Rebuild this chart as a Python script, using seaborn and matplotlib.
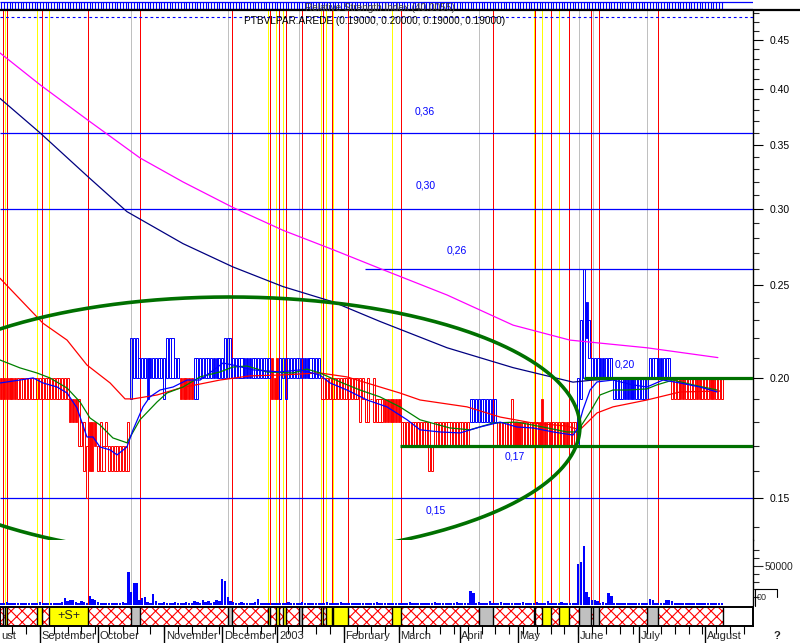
import matplotlib.pyplot as plt
import matplotlib.ticker as mticker
from matplotlib.lines import Line2D
import numpy as np
import seaborn as sns

# daily bars, one entry per trading day starting mid August 2002 (prices in cents)
low_cents = [
    19, 19, 19, 19, 19, 19, 19, 19, 19, 19, 19, 19, 19, 19, 19, 19, 19, 19, 19, 19,
    19, 19, 19, 19, 19, 18, 18, 18, 17, 17, 16, 15, 16, 16, 17, 16, 16, 16, 17, 16,
    16, 16, 16, 16, 16, 16, 16, 19, 20, 20, 20, 20, 20, 19, 20, 20, 20, 20, 20, 19,
    20, 20, 20, 20, 20, 19, 19, 19, 19, 19, 19, 19, 20, 20, 20, 20, 20, 20, 20, 20,
    20, 20, 20, 20, 20, 20, 20, 20, 20, 20, 20, 20, 20, 20, 20, 20, 20, 20, 19, 19,
    19, 19, 20, 19, 20, 20, 20, 20, 20, 20, 20, 20, 20, 20, 20, 20, 19, 19, 19, 19,
    19, 19, 19, 19, 19, 19, 19, 19, 19, 19, 18, 19, 18, 18, 19, 18, 18, 18, 18, 18,
    18, 18, 18, 18, 18, 17, 17, 17, 17, 17, 17, 17, 17, 17, 17, 16, 16, 17, 17, 17,
    17, 17, 17, 17, 17, 17, 17, 17, 17, 17, 18, 18, 18, 18, 18, 18, 18, 18, 18, 18,
    17, 17, 17, 17, 17, 17, 17, 17, 17, 17, 17, 17, 17, 17, 17, 17, 17, 17, 17, 17,
    17, 17, 17, 17, 17, 17, 17, 17, 17, 17, 19, 20, 22, 21, 20, 20, 20, 20, 20, 20,
    20, 20, 19, 19, 19, 19, 19, 19, 19, 19, 19, 19, 19, 19, 19, 20, 20, 20, 20, 20,
    20, 20, 20, 19, 19, 19, 19, 19, 19, 19, 19, 19, 19, 19, 19, 19, 19, 19, 19, 19,
    19, 19,
]
high_cents = [
    20, 20, 20, 20, 20, 20, 20, 20, 20, 20, 20, 20, 20, 20, 20, 20, 20, 20, 20, 20,
    20, 20, 20, 20, 20, 19, 19, 19, 19, 18, 18, 17, 18, 18, 18, 17, 18, 17, 18, 17,
    17, 17, 17, 17, 17, 17, 18, 22, 22, 22, 21, 21, 21, 21, 21, 21, 21, 21, 21, 21,
    22, 22, 22, 21, 21, 20, 20, 20, 20, 20, 21, 21, 21, 21, 21, 21, 21, 21, 21, 21,
    21, 22, 22, 22, 21, 21, 21, 21, 21, 21, 21, 21, 21, 21, 21, 21, 21, 21, 21, 20,
    21, 21, 21, 21, 21, 21, 21, 21, 21, 21, 21, 21, 21, 21, 21, 21, 20, 20, 20, 20,
    20, 20, 20, 20, 20, 20, 20, 20, 20, 20, 20, 20, 19, 20, 19, 20, 19, 19, 19, 19,
    19, 19, 19, 19, 19, 18, 18, 18, 18, 18, 18, 18, 18, 18, 18, 18, 17, 18, 18, 18,
    18, 18, 18, 18, 18, 18, 18, 18, 18, 18, 19, 19, 19, 19, 19, 19, 19, 19, 19, 19,
    18, 18, 18, 18, 18, 19, 18, 18, 18, 18, 18, 18, 18, 18, 18, 18, 19, 18, 18, 18,
    18, 18, 18, 18, 18, 18, 18, 18, 18, 20, 23, 26, 24, 23, 21, 21, 21, 21, 21, 21,
    21, 21, 20, 20, 20, 20, 20, 20, 20, 20, 20, 20, 20, 20, 20, 21, 21, 21, 21, 21,
    21, 21, 21, 20, 20, 20, 20, 20, 20, 20, 20, 20, 20, 20, 20, 20, 20, 20, 20, 20,
    20, 20,
]
volume_k = [
    3, 2, 4, 2, 3, 3, 2, 3, 3, 2, 2, 3, 2, 3, 4, 2, 3, 2, 3, 3,
    2, 3, 4, 9, 5, 6, 7, 4, 3, 5, 4, 3, 12, 8, 6, 4, 3, 3, 2, 3,
    2, 3, 2, 3, 4, 3, 42, 17, 28, 28, 6, 9, 10, 4, 3, 14, 5, 3, 3, 4,
    3, 2, 3, 4, 3, 2, 3, 4, 3, 3, 5, 4, 3, 6, 4, 5, 3, 4, 6, 5,
    33, 31, 10, 5, 4, 3, 3, 4, 3, 2, 3, 3, 4, 8, 3, 3, 2, 3, 2, 3,
    2, 3, 3, 2, 4, 3, 2, 3, 3, 4, 2, 3, 3, 2, 3, 2, 3, 2, 4, 3,
    2, 3, 3, 4, 3, 2, 3, 2, 3, 3, 2, 3, 3, 2, 3, 3, 4, 3, 2, 3,
    3, 2, 3, 3, 2, 3, 3, 2, 4, 3, 3, 2, 3, 3, 2, 3, 3, 4, 3, 3,
    2, 3, 3, 2, 3, 4, 2, 3, 2, 3, 18, 15, 3, 4, 3, 2, 3, 5, 3, 3,
    2, 4, 3, 3, 2, 3, 3, 2, 3, 4, 3, 2, 3, 3, 4, 3, 2, 3, 5, 3,
    2, 3, 3, 4, 3, 3, 2, 3, 3, 52, 55, 76, 17, 10, 6, 6, 5, 3, 4, 3,
    15, 12, 3, 3, 2, 3, 3, 2, 3, 3, 2, 3, 3, 2, 3, 8, 6, 3, 2, 3,
    3, 6, 6, 5, 3, 2, 3, 3, 2, 3, 3, 2, 3, 3, 2, 3, 3, 2, 3, 3,
    2, 3,
]
trend_starts = [0, 47, 65, 70, 98, 101, 116, 170, 180, 209, 243]
trend_colors = ["red", "blue", "red", "blue", "red", "blue", "red", "blue", "red", "blue", "red"]
filled_days = [0, 1, 2, 3, 4, 5, 25, 26, 27, 32, 33, 34, 53, 54, 65, 66, 67, 68, 69,
               77, 78, 88, 89, 90, 98, 99, 100, 110, 111, 139, 140, 141, 142, 143, 144,
               186, 187, 188, 195, 196, 197, 204, 205, 212, 217, 218, 226, 227, 228, 229,
               238, 239, 246, 247, 252, 253, 257, 258]

# first trading day of each month; the August 2002 label is cut by the left edge
month_starts = [-8, 14, 35, 59, 80, 100, 124, 144, 166, 187, 209, 231, 255]
month_labels = ["ust", "September", "October", "November", "December", "2003",
                "February", "March", "April", "May", "June", "July", "August"]

# event markers (trading-day position)
red_events = [0.6, 2.0, 14.7, 31.4, 50.2, 83.6, 97.3, 100.6, 103.1, 108.9, 116.5, 119.8,
              125.6, 144.8, 178.1, 193.3, 199.1, 205.7, 213.6, 216.5, 237.9]
yellow_events = [1.3, 12.9, 17.3, 96.6, 99.5, 102.0, 115.8, 117.6, 120.2, 141.5,
                 193.0, 195.9, 202.0]
gray_events = [47.0, 82.1, 107.8, 173.1, 209.3, 214.4, 233.9]

# moving averages, read at sample points
ma_magenta_x = [-0.5, 14.0, 31.4, 50.2, 65.8, 83.9, 102.0, 120.2, 137.2, 161.5, 185.4, 206.0, 233.9, 259.6]
ma_magenta_y = [0.436, 0.404, 0.371, 0.339, 0.320, 0.301, 0.285, 0.272, 0.260, 0.244, 0.227, 0.219, 0.215, 0.210]
ma_navy_x = [-0.5, 14.0, 31.4, 45.5, 65.8, 83.9, 102.0, 120.2, 137.2, 161.5, 185.4, 207.1, 214.4, 231.4, 260.4]
ma_navy_y = [0.391, 0.360, 0.324, 0.298, 0.276, 0.261, 0.249, 0.240, 0.229, 0.215, 0.205, 0.198, 0.199, 0.200, 0.1995]
ma_red_x = [-0.5, 15.1, 23.8, 31.0, 39.4, 44.8, 47.7, 56.4, 64.7, 72.0, 79.2, 90.1, 101.0, 115.4,
            125.2, 137.2, 144.4, 151.7, 168.7, 180.7, 192.6, 204.9, 209.6, 215.8, 221.6, 233.9, 245.9, 260.4]
ma_red_y = [0.254, 0.228, 0.219, 0.2063, 0.1976, 0.1902, 0.1902, 0.192, 0.1952, 0.1971, 0.199, 0.201, 0.2014, 0.2024,
            0.2005, 0.1957, 0.1929, 0.1897, 0.1866, 0.1821, 0.1795, 0.1782, 0.1766, 0.1839, 0.1866, 0.1897, 0.1934, 0.1938]
ma_green_x = [-0.5, 6.7, 12.9, 17.6, 23.8, 28.5, 32.1, 35.7, 40.4, 45.5, 50.2, 56.4, 60.0, 65.8, 72.0,
              79.2, 83.9, 89.0, 96.2, 105.7, 110.7, 115.4, 122.7, 129.9, 137.2, 144.4, 151.7, 162.5,
              169.8, 178.1, 186.8, 196.2, 204.9, 208.6, 213.3, 216.9, 221.6, 226.7, 233.9, 237.5,
              243.3, 250.6, 259.3]
ma_green_y = [0.2088, 0.2049, 0.2024, 0.200, 0.1952, 0.1888, 0.1817, 0.1787, 0.1732, 0.1712, 0.1809,
              0.1888, 0.1929, 0.1957, 0.2005, 0.2029, 0.2053, 0.2058, 0.2029, 0.2024, 0.2043, 0.2024,
              0.1981, 0.1943, 0.1911, 0.1866, 0.1809, 0.1774, 0.1766, 0.1795, 0.1799, 0.1778, 0.1757,
              0.1757, 0.1843, 0.192, 0.1943, 0.1943, 0.1948, 0.1967, 0.199, 0.1967, 0.1943]
ma_blue_x = [-0.5, 6.7, 11.5, 15.1, 20.2, 23.8, 27.4, 31.0, 33.2, 35.7, 39.4, 41.9, 45.5, 47.7, 51.3,
             53.8, 57.5, 62.2, 67.3, 72.0, 80.3, 83.9, 91.2, 101.0, 108.2, 115.4, 119.1, 125.2, 132.5,
             139.7, 147.0, 151.7, 158.9, 166.2, 173.4, 180.7, 186.8, 192.6, 199.9, 207.1, 208.9, 210.7,
             213.3, 215.8, 221.6, 228.8, 233.9, 239.7, 245.9, 253.1, 259.3]
ma_blue_y = [0.1976, 0.199, 0.200, 0.1976, 0.1957, 0.1929, 0.1861, 0.1736, 0.1736, 0.1695, 0.1683,
             0.1663, 0.1695, 0.1766, 0.1866, 0.1911, 0.1943, 0.1957, 0.199, 0.199, 0.2073, 0.2063,
             0.2039, 0.2029, 0.2039, 0.2014, 0.1976, 0.1943, 0.1897, 0.1866, 0.1809, 0.1766, 0.1757,
             0.1753, 0.1778, 0.1799, 0.1778, 0.1774, 0.1757, 0.1744, 0.1774, 0.1852, 0.1943, 0.1981,
             0.199, 0.1967, 0.1957, 0.199, 0.1976, 0.1957, 0.1934]

level_prices = [0.36, 0.30, 0.26, 0.15]
level_starts = [-0.5, -0.5, 131.7, -0.5]
level_labels = ["0,36", "0,30", "0,26", "0,15"]
level_label_x = [153.5, 153.8, 165.1, 157.5]
level_label_dy = [-21, -23, -18, 13]
support_prices = [0.17, 0.20]
support_starts = [144.4, 211.0]
support_labels = ["0,17", "0,20"]
support_label_x = [186.1, 226.0]
support_label_dy = [11, -13]

ellipse_center_day = 82.8
ellipse_center_price = 0.1778
ellipse_half_width_days = 126.8
ellipse_half_height_decades = 0.1354

# ---------------------------------------------------------------------------
sns.set_theme(style="white")
plt.rcParams["font.family"] = ["Liberation Sans", "DejaVu Sans"]
plt.rcParams["hatch.color"] = "red"
plt.rcParams["hatch.linewidth"] = 0.8

RED, BLUE, YELLOW, GRAY = "#ff0000", "#0000ff", "#ffff00", "#c0c0c0"
W, H = 800, 643
PX_PER_DAY = 2.76
xlim = (-0.5, 753 / PX_PER_DAY - 0.5)


def box(x0, y0, x1, y1):
    return [x0 / W, 1 - y1 / H, (x1 - x0) / W, (y1 - y0) / H]


fig = plt.figure(figsize=(8, 6.43), dpi=100)
ax_top = fig.add_axes(box(0, 0, 753, 10))
ax = fig.add_axes(box(0, 10, 753, 540))
ax_vol = fig.add_axes(box(0, 540, 753, 605))
ax_band = fig.add_axes(box(0, 606.5, 753, 626))
ax_date = fig.add_axes(box(0, 626, 753, 643))

days = np.arange(len(low_cents))
lows = np.array(low_cents) / 100
highs = np.array(high_cents) / 100
colors = np.array(trend_colors)[np.searchsorted(trend_starts, days, side="right") - 1]
bar_colors = np.array([RED if c == "red" else BLUE for c in colors])

# ---- price pane ----
ax.set_yscale("log")
for xs, col in ((red_events, RED), (yellow_events, YELLOW), (gray_events, GRAY)):
    for xe in xs:
        ax.axvline(xe, color=col, lw=0.72, zorder=1, antialiased=False)
        ax_vol.axvline(xe, color=col, lw=0.72, zorder=1, antialiased=False)

for price, start, label, lx, dy in zip(level_prices, level_starts, level_labels,
                                        level_label_x, level_label_dy):
    ax.hlines(price, start, xlim[1], color=BLUE, lw=0.9, zorder=2)
    ax.annotate(label, (lx, price), xytext=(0, -dy * 0.72), textcoords="offset points",
                ha="center", va="center", color=BLUE, fontsize=7.5)

filled = np.isin(days, filled_days)
ax.bar(days[filled], highs[filled] - lows[filled], bottom=lows[filled], width=0.75,
       color=bar_colors[filled], edgecolor=bar_colors[filled], lw=0.6, zorder=2)
ax.bar(days[~filled], highs[~filled] - lows[~filled], bottom=lows[~filled], width=0.75,
       facecolor="none", edgecolor=bar_colors[~filled], lw=0.7, zorder=2)

for xs, ys, col in ((ma_magenta_x, ma_magenta_y, "#ff00ff"), (ma_navy_x, ma_navy_y, "#000080"),
                    (ma_red_x, ma_red_y, RED), (ma_green_x, ma_green_y, "#008000"),
                    (ma_blue_x, ma_blue_y, BLUE)):
    sns.lineplot(x=xs, y=ys, color=col, lw=0.9, ax=ax, zorder=3)

for price, start, label, lx, dy in zip(support_prices, support_starts, support_labels,
                                        support_label_x, support_label_dy):
    ax.hlines(price, start, xlim[1], color="#007000", lw=2.3, zorder=4)
    ax.annotate(label, (lx, price), xytext=(0, -dy * 0.72), textcoords="offset points",
                ha="center", va="center", color=BLUE, fontsize=7.5)

t = np.linspace(0, 2 * np.pi, 600)
ex = ellipse_center_day + ellipse_half_width_days * np.cos(t)
ey = 10 ** (np.log10(ellipse_center_price) + ellipse_half_height_decades * np.sin(t))
ax.plot(ex, ey, color="#007000", lw=2.6, zorder=4)

ax.plot([0, 1], [1 - 7 / 530] * 2, transform=ax.transAxes, color=BLUE, lw=0.8,
        ls=(0, (2.5, 2.5)), zorder=5)

ax.set_xlim(*xlim)
ax.set_ylim(0.1356, 0.4833)
ax.set_xticks([])
ax.yaxis.tick_right()
ax.yaxis.set_major_locator(mticker.FixedLocator([0.15, 0.20, 0.25, 0.30, 0.35, 0.40, 0.45]))
ax.yaxis.set_major_formatter(mticker.FuncFormatter(lambda v, _: f"{v:.2f}"))
ax.yaxis.set_minor_locator(mticker.FixedLocator(
    [v / 100 for v in range(14, 49) if v % 5 != 0]))
ax.yaxis.set_minor_formatter(mticker.NullFormatter())
ax.tick_params(axis="y", which="major", length=7, width=0.8, direction="out",
               labelsize=7.5, pad=5, colors="black", right=True, left=False)
ax.tick_params(axis="y", which="minor", length=4, width=0.8, direction="out",
               right=True, left=False)
for side in ("top", "left", "bottom"):
    ax.spines[side].set_visible(False)
ax.spines["right"].set_color("black")
ax.spines["right"].set_linewidth(1.0)

# ---- volume pane ----
ax_vol.bar(days, np.array(volume_k) * 1000, width=0.85, color=BLUE, lw=0, zorder=3,
           antialiased=False)
ax_vol.set_xlim(*xlim)
ax_vol.set_ylim(0, 83300)
ax_vol.set_xticks([])
ax_vol.yaxis.tick_right()
ax_vol.yaxis.set_major_locator(mticker.FixedLocator([50000]))
ax_vol.yaxis.set_major_formatter(mticker.FuncFormatter(lambda v, _: f"{v:.0f}"))
ax_vol.yaxis.set_minor_locator(mticker.FixedLocator([10000, 20000, 30000, 40000, 60000, 70000]))
ax_vol.tick_params(axis="y", which="major", length=7, width=0.8, direction="out",
                   labelsize=7.5, pad=1, right=True, left=False)
ax_vol.tick_params(axis="y", which="minor", length=4, width=0.8, direction="out",
                   right=True, left=False)
for side in ("top", "left", "bottom"):
    ax_vol.spines[side].set_visible(False)
ax_vol.spines["right"].set_color("black")
ax_vol.spines["right"].set_linewidth(1.0)

# ---- event band ----
data_end = days[-1] + 0.5
events = sorted([(x, "red") for x in red_events] + [(x, "yellow") for x in yellow_events]
                + [(x, "gray") for x in gray_events] + [(-0.5, "red")])
for k, (xe, kind) in enumerate(events):
    x_next = events[k + 1][0] if k + 1 < len(events) else data_end
    if kind == "red":
        ax_band.bar(xe, 1, width=x_next - xe, align="edge", facecolor="white",
                    edgecolor=RED, hatch="xxx", lw=0)
    else:
        ax_band.bar(xe, 1, width=x_next - xe, align="edge",
                    color=YELLOW if kind == "yellow" else GRAY, lw=0)
ax_band.vlines([e[0] for e in events[1:]] + [data_end], 0, 1, color="black", lw=1.0)
ax_band.text(24.3, 0.5, "+S+", ha="center", va="center", fontsize=9)
ax_band.set_xlim(*xlim)
ax_band.set_ylim(0, 1)
ax_band.set_xticks([])
ax_band.set_yticks([])
for side in ax_band.spines.values():
    side.set_color("black")
    side.set_linewidth(1.4)

# ---- date axis ----
ax_date.vlines(month_starts, 0, 1, color="black", lw=1.0)
ax_date.vlines([d for d in range(-6, len(days) + 8, 5)], 0.55, 1, color="black", lw=0.8)
for start, label in zip(month_starts, month_labels):
    lx = max(start + 0.6, xlim[0] + 0.3)
    ax_date.text(lx, 0.42, label, ha="left", va="center", fontsize=8, clip_on=True)
ax_date.set_xlim(*xlim)
ax_date.set_ylim(0, 1)
ax_date.axis("off")

# ---- squeezed indicator strip on top ----
ax_top.hlines([0.15, 0.85], xlim[0], xlim[1], color=BLUE, lw=0.9)
ax_top.vlines(days, 0.15, 0.85, color=BLUE, lw=0.8)
ax_top.set_xlim(*xlim)
ax_top.set_ylim(0, 1)
ax_top.axis("off")

fig.add_artist(Line2D([0, 1], [1 - 10 / H] * 2, color="black", lw=1.6))
fig.text(380 / W, 1 - 8 / H, "Relative Strength Index (40.0055)", ha="center", va="center",
         fontsize=7.2, color="#404040", zorder=10)
fig.text(375 / W, 1 - 21 / H, "PTBVLPAR.AREDE (0.19000, 0.20000, 0.19000, 0.19000)",
         ha="center", va="center", fontsize=7.2, color="black")
fig.text(777 / W, 1 - 636 / H, "?", ha="center", va="center", fontsize=8, fontweight="bold")
fig.text(757 / W, 1 - 598 / H, "00", ha="left", va="center", fontsize=6.5)
fig.add_artist(Line2D([755 / W, 755 / W, 777 / W, 777 / W],
                      [1 - 606 / H, 1 - 589 / H, 1 - 589 / H, 1 - 597 / H],
                      color="black", lw=0.8))

fig.savefig("out.png", dpi=100)
